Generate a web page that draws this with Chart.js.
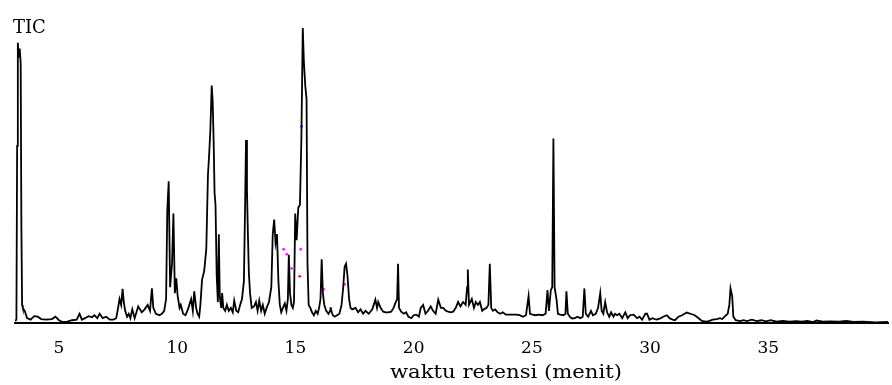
<!DOCTYPE html>
<html><head><meta charset="utf-8">
<script src="https://cdn.jsdelivr.net/npm/chart.js@4/dist/chart.umd.min.js"></script>
<style>html,body{margin:0;padding:0;background:#fff}#wrap{width:892px;height:385px;position:relative}</style>
</head><body><div id="wrap"><canvas id="c" width="892" height="385"></canvas></div>
<script>
// Retention time (min) and TIC relative intensity (%)
const retentionTimes = [
3.14,3.20,3.23,3.26,3.30,3.34,3.38,3.41,3.44,3.47,3.55,3.65,3.80,3.95,4.10,4.25,4.45,4.70,4.85,5.00,
5.15,5.35,5.55,5.75,5.87,5.97,6.10,6.25,6.40,6.50,6.62,6.72,6.85,7.00,7.15,7.30,7.42,7.50,7.56,7.63,
7.69,7.74,7.80,7.88,7.95,8.02,8.10,8.20,8.35,8.50,8.62,8.75,8.85,8.93,8.99,9.10,9.25,9.35,9.45,9.53,
9.58,9.64,9.70,9.78,9.84,9.90,9.96,10.02,10.10,10.15,10.25,10.35,10.45,10.59,10.66,10.72,10.80,10.86,10.93,10.98,
11.05,11.14,11.23,11.30,11.35,11.40,11.46,11.50,11.54,11.58,11.62,11.67,11.72,11.76,11.80,11.86,11.90,11.95,12.03,12.10,
12.18,12.27,12.35,12.41,12.50,12.58,12.66,12.74,12.82,12.87,12.91,12.95,12.99,13.03,13.08,13.15,13.25,13.33,13.40,13.47,
13.55,13.62,13.70,13.78,13.88,13.98,14.04,14.10,14.16,14.22,14.28,14.34,14.40,14.47,14.55,14.62,14.68,14.72,14.77,14.83,
14.89,14.94,14.99,15.05,15.12,15.19,15.25,15.31,15.36,15.42,15.47,15.51,15.56,15.63,15.70,15.78,15.86,15.94,16.00,16.06,
16.11,16.16,16.22,16.30,16.40,16.50,16.58,16.66,16.76,16.86,16.95,17.02,17.08,17.14,17.20,17.27,17.33,17.40,17.54,17.65,
17.75,17.86,17.96,18.10,18.25,18.38,18.45,18.50,18.60,18.71,18.82,18.92,19.05,19.15,19.22,19.30,19.34,19.38,19.47,19.58,
19.68,19.78,19.90,20.00,20.11,20.22,20.30,20.40,20.50,20.61,20.72,20.82,20.93,21.04,21.15,21.25,21.36,21.46,21.57,21.67,
21.78,21.88,21.98,22.09,22.20,22.26,22.29,22.34,22.46,22.55,22.63,22.72,22.80,22.90,22.97,23.08,23.16,23.22,23.28,23.35,
23.45,23.55,23.66,23.77,23.90,24.05,24.20,24.35,24.48,24.62,24.75,24.86,24.92,25.03,25.15,25.30,25.45,25.58,25.66,25.72,
25.80,25.86,25.91,25.96,26.04,26.10,26.20,26.33,26.42,26.46,26.52,26.62,26.71,26.82,26.92,27.05,27.15,27.22,27.28,27.38,
27.50,27.58,27.70,27.80,27.89,27.95,28.02,28.10,28.18,28.27,28.35,28.45,28.52,28.60,28.70,28.82,28.95,29.05,29.15,29.30,
29.45,29.55,29.66,29.80,29.87,29.97,30.10,30.20,30.29,30.45,30.55,30.71,30.82,30.95,31.05,31.20,31.35,31.55,31.70,31.89,
32.05,32.19,32.35,32.48,32.65,32.82,32.95,33.05,33.15,33.28,33.35,33.40,33.47,33.52,33.62,33.80,33.95,34.10,34.30,34.51,
34.70,34.90,35.10,35.35,35.60,35.90,36.18,36.40,36.65,36.90,37.03,37.30,37.60,38.00,38.29,38.60,39.00,39.55,40.06
];
const ticIntensity = [
0.5,1,60,95,90,93,88,33,6,5,4,1.5,1,2.2,2,1.2,1,1.2,2,0.8,
0.2,0.3,0.8,1,3,1,1.5,2.2,1.8,2.5,1.5,3,1.5,2,1,1,1.5,5,8,6,
11.5,7,4,2,3,1.5,4.5,1.5,5.5,3.5,4.5,6,4,11.6,5,3,2.5,3,4,8,
38,48,12,20,37,10,15,9,5,6,3,2.5,4.4,8,4,10.6,5,3,2,6,
14.5,17.4,25,50,57,65,80.5,75,62,44,40,16,7,30,9,5,10,5,4,6,
4,5,3.5,7.5,4,3.5,6,8,14,39,62,45,30,17,10,5,5.5,7,4,7.5,
4,6,3,5,7,12,30,35,27,30,14,6,3.5,5,6.5,4,8,23,10,6,
5,7,37,28,39,40,62,100,88,80,76,20,6,5,3.5,2.5,4,3,5,8,
21.5,10,6,4,3,4.5,2.5,2,2.5,3,6,12,19,20,16,8,5,4.5,5,3.5,
4.5,3,4,3,4.5,7.8,5,7,5,3.7,3.5,3.5,3.7,5,6.5,8,20,5,3.7,3,
3.5,2,1.5,2.5,2.7,2,5,6,3,4,5.5,4,3,7.8,5,5,4,3.7,3.5,3.7,
5,7,5.5,7,6,12,18,6,8,5,7,6,7,4,4.5,5,6,20,5,4,
4.5,3.5,3,3.5,2.7,2.7,2.7,2.7,2.5,2,2.5,9,3,2.7,2.5,2.7,2.5,3,11,4,
11,12,62.5,12,8,3,2.7,2.5,3,10.6,3,1.8,1.4,1.5,2,1.5,2,11.6,3,2,
4,2.5,3,5,10,4,3,7,3.5,2,3.5,2,3,2.5,3,1.5,3.5,1.5,2.5,2.7,
1.5,2,1,3,3,1,1.5,1.2,1,1.5,2,2.5,1.5,1,0.8,2,2.5,3.4,3,2.5,
1.5,0.6,0.3,0.5,1,1.2,1.5,1.2,2,3,6,11.6,9,2,0.8,0.5,0.8,0.5,1,0.5,
0.8,0.4,0.8,0.3,0.6,0.3,0.5,0.3,0.6,0.2,0.7,0.3,0.4,0.3,0.6,0.2,0.3,0.1,0.2
];
const tickValues = [5, 10, 15, 20, 25, 30, 35];
// small coloured peak-marker dots
const markerTimes  = [14.50, 14.63, 14.84, 15.22, 16.19, 17.08, 15.26, 16.49, 15.18];
const markerValues = [24.9, 23.2, 18.4, 24.9, 11.3, 13.0, 66.6, 4.8, 15.7];
const markerColors = ['#ff22ff','#ff22ff','#ff22ff','#ff22ff','#ff22ff','#ff22ff','#3344ff','#3344ff','#ee2222'];
const yAxisLabel = 'TIC';
const xAxisTitle = 'waktu retensi (menit)';

const textPlugin = {
  id: 'textPlugin',
  afterDraw(chart) {
    const ctx = chart.ctx;
    ctx.save();
    ctx.fillStyle = '#000';
    ctx.textBaseline = 'alphabetic';
    ctx.textAlign = 'left';
    ctx.font = '18px "DejaVu Serif"';
    ctx.fillText(yAxisLabel, 13, 33);
    const w = ctx.measureText(xAxisTitle).width;
    const target = 232;
    ctx.translate(390, 378);
    ctx.scale(target / w, 1);
    ctx.fillText(xAxisTitle, 0, 0);
    ctx.restore();
  }
};

new Chart(document.getElementById('c'), {
  type: 'line',
  data: {
    datasets: [
      {
        data: retentionTimes.map((t, i) => ({x: t, y: ticIntensity[i]})),
        borderColor: '#000', borderWidth: 1.8, pointRadius: 0, tension: 0, fill: false
      },
      {
        data: markerTimes.map((t, i) => ({x: t, y: markerValues[i]})),
        showLine: false, pointRadius: 1.4, pointBorderWidth: 0,
        pointBackgroundColor: markerColors, borderColor: 'rgba(0,0,0,0)'
      }
    ]
  },
  options: {
    responsive: false, animation: false, events: [],
    layout: {padding: {left: 15, right: 0, top: 28, bottom: 10}},
    plugins: {legend: {display: false}, tooltip: {enabled: false}, title: {display: false}},
    scales: {
      x: {
        type: 'linear', min: 3.14, max: 40.06,
        grid: {display: false, drawTicks: false},
        border: {display: true, color: '#000', width: 2},
        ticks: {color: '#000', padding: 16, font: {family: 'DejaVu Serif', size: 17}, maxRotation: 0, autoSkip: false},
        afterBuildTicks: s => { s.ticks = tickValues.map(v => ({value: v})); }
      },
      y: {display: false, min: 0, max: 100}
    }
  },
  plugins: [textPlugin]
});
</script>
</body></html>
